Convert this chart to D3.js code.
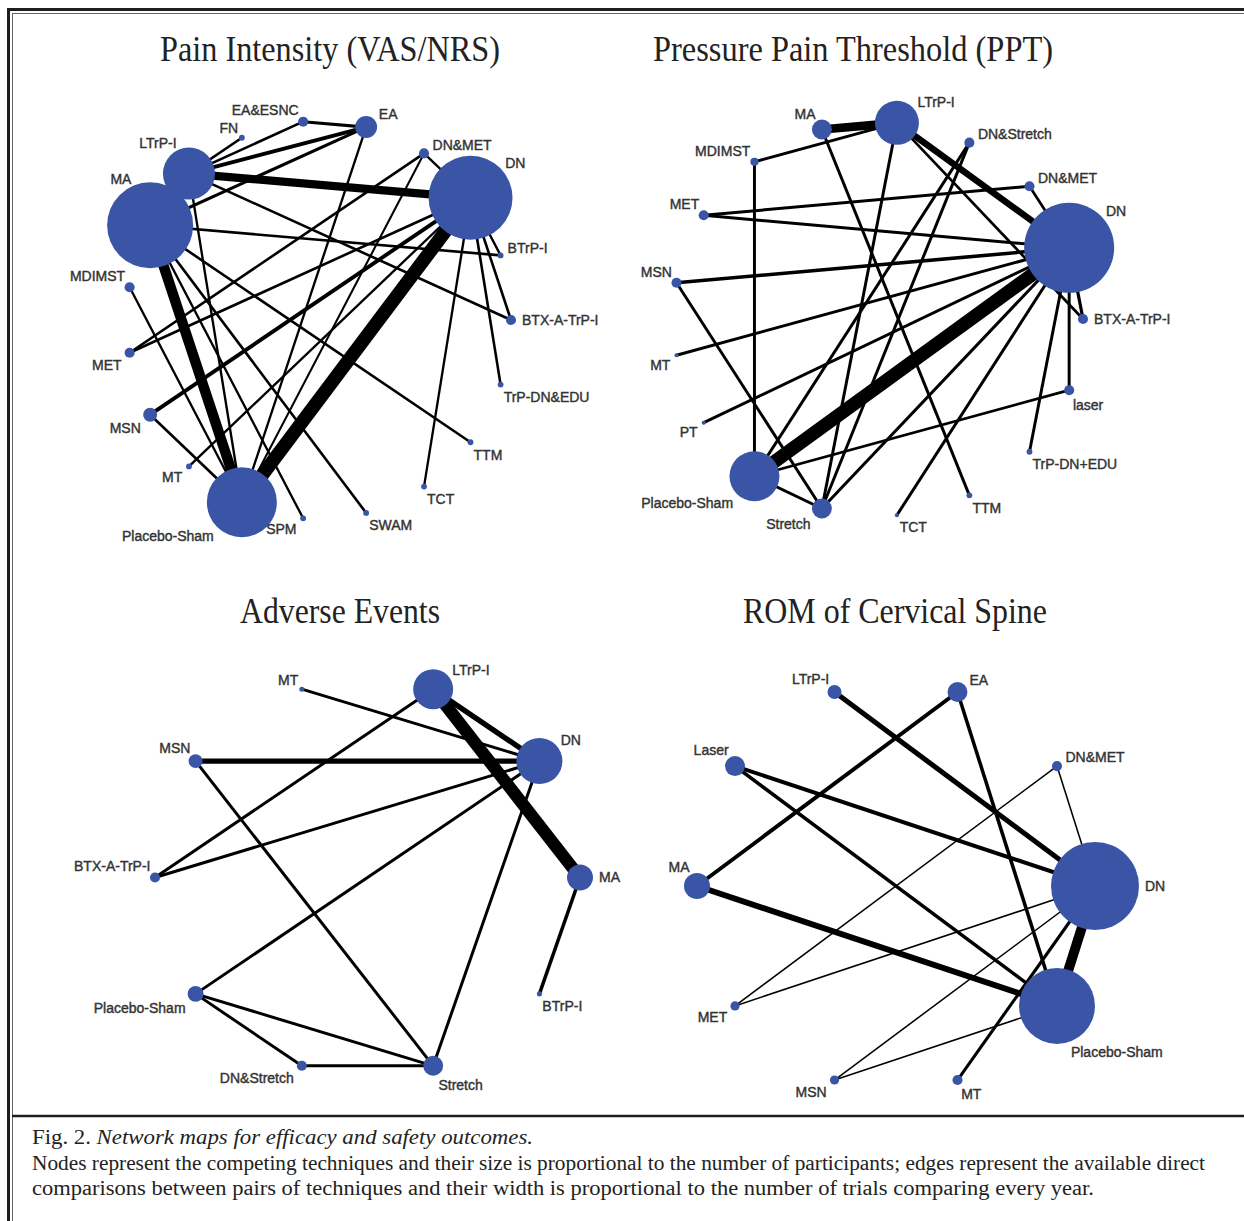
<!DOCTYPE html>
<html><head><meta charset="utf-8">
<script src="https://cdn.jsdelivr.net/npm/d3@7"></script>
<style>body{margin:0;background:#fff}svg{display:block}</style>
</head><body><svg id="c" width="1244" height="1221"></svg>
<script>
// ---------- DATA ----------
const panelTitles = ["Pain Intensity (VAS/NRS)", "Pressure Pain Threshold (PPT)", "Adverse Events", "ROM of Cervical Spine"];

// Panel 1: Pain intensity
const painNodes = ["BTX-A-TrP-I","BTrP-I","DN","DN&MET","EA","EA&ESNC","FN","LTrP-I","MA","MDIMST","MET","MSN","MT","Placebo-Sham","SPM","SWAM","TCT","TTM","TrP-DN&EDU"];
const painParticipants = [12, 4, 834, 12, 57, 12, 4, 320, 874, 12, 12, 23, 4, 579, 4, 4, 4, 4, 4];
const painEdges = [
  ["LTrP-I","DN",3.2],["MA","Placebo-Sham",4],["DN","Placebo-Sham",5.2],
  ["EA&ESNC","EA",1.2],["EA","LTrP-I",1.5],["EA","MA",1.2],["EA&ESNC","LTrP-I",1],
  ["FN","LTrP-I",1],["EA","Placebo-Sham",0.9],["DN&MET","DN",0.9],["DN&MET","MET",1],
  ["DN","MET",1],["DN&MET","Placebo-Sham",0.8],["DN","MSN",1.5],["DN","MT",0.9],
  ["DN","BTrP-I",0.9],["DN","BTX-A-TrP-I",1],["DN","TrP-DN&EDU",1],["DN","TCT",0.9],
  ["MA","BTrP-I",1],["LTrP-I","BTX-A-TrP-I",1],["MA","TTM",1],["MA","SWAM",1],
  ["MA","SPM",0.9],["MDIMST","Placebo-Sham",0.9],["MSN","Placebo-Sham",1],["LTrP-I","Placebo-Sham",0.9]
];

// Panel 2: Pressure pain threshold
const pptNodes = ["BTX-A-TrP-I","DN","DN&MET","DN&Stretch","LTrP-I","MA","MDIMST","MET","MSN","MT","PT","Placebo-Sham","Stretch","TCT","TTM","TrP-DN+EDU","laser"];
const pptParticipants = [12, 957, 12, 12, 229, 47, 8, 12, 12, 2, 2, 295, 47, 2, 4, 4, 12];
const pptEdges = [
  ["MA","LTrP-I",3.2],["LTrP-I","DN",2.4],["DN","Placebo-Sham",5],
  ["MDIMST","LTrP-I",1.1],["MDIMST","Placebo-Sham",1.1],["MET","DN&MET",1.1],["MET","DN",1.1],
  ["DN&MET","DN",1],["MSN","DN",1.3],["MSN","Stretch",1.1],["MT","DN",1.1],["PT","DN",1.1],
  ["laser","DN",1.1],["laser","Placebo-Sham",1],["TrP-DN+EDU","DN",1.1],["BTX-A-TrP-I","DN",1.2],
  ["LTrP-I","BTX-A-TrP-I",1],["TCT","DN",1.1],["MA","TTM",1.1],["LTrP-I","Stretch",1.1],
  ["DN&Stretch","Placebo-Sham",1.1],["DN&Stretch","Stretch",1.1],["Placebo-Sham","Stretch",1.1],["Stretch","DN",1.1]
];

// Panel 3: Adverse events
const aeNodes = ["MA","DN","LTrP-I","MT","MSN","BTX-A-TrP-I","Placebo-Sham","DN&Stretch","Stretch","BTrP-I"];
const aeParticipants = [80, 250, 189, 3, 23, 12, 30, 12, 47, 3];
const aeEdges = [
  ["LTrP-I","MA",4.6],["LTrP-I","DN",2],["MSN","DN",2],["MT","DN",1.1],
  ["LTrP-I","BTX-A-TrP-I",1.1],["DN","BTX-A-TrP-I",1.1],["DN","Placebo-Sham",1.1],["DN","Stretch",1.1],
  ["MSN","Stretch",1.1],["MA","BTrP-I",1.3],["Placebo-Sham","Stretch",1.1],
  ["Placebo-Sham","DN&Stretch",1.1],["DN&Stretch","Stretch",1.1]
];

// Panel 4: ROM of cervical spine
const romNodes = ["DN","DN&MET","EA","LTrP-I","Laser","MA","MET","MSN","MT","Placebo-Sham"];
const romParticipants = [915, 12, 47, 23, 47, 80, 10, 10, 12, 682];
const romEdges = [
  ["LTrP-I","DN",2.3],["EA","MA",1.8],["EA","Placebo-Sham",1.6],["Laser","DN",1.8],
  ["Laser","Placebo-Sham",1.6],["MA","Placebo-Sham",2.7],["DN&MET","DN",0.7],["DN&MET","MET",0.7],
  ["MET","DN",0.7],["MSN","DN",0.7],["MSN","Placebo-Sham",0.7],["MT","DN",1.4],["DN","Placebo-Sham",4.5]
];

const captionHead = "Fig. 2. ";
const captionTitle = "Network maps for efficacy and safety outcomes.";
const captionLines = [
  "Nodes represent the competing techniques and their size is proportional to the number of participants; edges represent the available direct",
  "comparisons between pairs of techniques and their width is proportional to the number of trials comparing every year."
];

// ---------- LAYOUT ----------
const panels = [
  {title: panelTitles[0], nodes: painNodes, sizes: painParticipants, edges: painEdges, cx: 319, cy: 320, rx: 192, ry: 199, unit: 2.6, tx: 330, ty: 61, tw: 340},
  {title: panelTitles[1], nodes: pptNodes, sizes: pptParticipants, edges: pptEdges, cx: 878, cy: 319, rx: 205, ry: 197, unit: 2.7, tx: 853, ty: 61, tw: 400},
  {title: panelTitles[2], nodes: aeNodes, sizes: aeParticipants, edges: aeEdges, cx: 367.5, cy: 877.5, rx: 212.5, ry: 198, unit: 2.7, tx: 340, ty: 623, tw: 200},
  {title: panelTitles[3], nodes: romNodes, sizes: romParticipants, edges: romEdges, cx: 896, cy: 886, rx: 199, ry: 204, unit: 2.2, tx: 895, ty: 623, tw: 304}
];

const NODE_COLOR = "#3a55a5";
const svg = d3.select("#c");
const rScale = d3.scaleSqrt().domain([0, 1000]).range([0, 46]);

// frame
const frame = svg.append("g");
frame.append("rect").attr("x", 0).attr("y", 0).attr("width", 1244).attr("height", 1221).attr("fill", "#fff");
frame.append("line").attr("x1", 7).attr("x2", 1244).attr("y1", 9.5).attr("y2", 9.5).attr("stroke", "#1e1e1e").attr("stroke-width", 3);
frame.append("line").attr("x1", 8.5).attr("x2", 8.5).attr("y1", 8).attr("y2", 1221).attr("stroke", "#1e1e1e").attr("stroke-width", 3);
frame.append("line").attr("x1", 12).attr("x2", 1244).attr("y1", 13.5).attr("y2", 13.5).attr("stroke", "#666").attr("stroke-width", 1);
frame.append("line").attr("x1", 12.5).attr("x2", 12.5).attr("y1", 13).attr("y2", 1221).attr("stroke", "#666").attr("stroke-width", 1);
frame.append("line").attr("x1", 12).attr("x2", 1244).attr("y1", 1116).attr("y2", 1116).attr("stroke", "#1e1e1e").attr("stroke-width", 2.5);

panels.forEach(p => {
  const g = svg.append("g");
  const N = p.nodes.length;
  const angle = d3.scaleLinear().domain([0, N]).range([0, 2 * Math.PI]);
  const wScale = d3.scaleLinear().domain([0, 1]).range([0, p.unit]);
  const nodes = p.nodes.map((name, i) => {
    const a = angle(i);
    return {name, a, deg: a * 180 / Math.PI,
      x: p.cx + p.rx * Math.cos(a), y: p.cy - p.ry * Math.sin(a), r: rScale(p.sizes[i])};
  });
  const byName = new Map(nodes.map(n => [n.name, n]));

  g.append("text").attr("x", p.tx).attr("y", p.ty).attr("text-anchor", "middle")
    .attr("font-family", "'Liberation Serif','Times New Roman',serif").attr("font-size", 35)
    .attr("textLength", p.tw).attr("lengthAdjust", "spacingAndGlyphs")
    .attr("fill", "#222").text(p.title);

  g.selectAll("line.edge").data(p.edges).join("line").attr("class", "edge")
    .attr("x1", d => byName.get(d[0]).x).attr("y1", d => byName.get(d[0]).y)
    .attr("x2", d => byName.get(d[1]).x).attr("y2", d => byName.get(d[1]).y)
    .attr("stroke", "#000").attr("stroke-width", d => wScale(d[2]));

  g.selectAll("circle.node").data(nodes).join("circle").attr("class", "node")
    .attr("cx", d => d.x).attr("cy", d => d.y).attr("r", d => d.r).attr("fill", NODE_COLOR);

  g.selectAll("text.lab").data(nodes).join("text").attr("class", "lab")
    .each(function(d) {
      let phi, anchor, extra = 0;
      const deg = d.deg;
      if (deg < 0.001) { phi = 0; anchor = "start"; }
      else if (deg < 90) { phi = 45; anchor = "start"; }
      else if (deg <= 180.001) { phi = 112; anchor = "end"; }
      else if (deg < 270) { phi = 228; anchor = "end"; extra = 3; }
      else { phi = -72; anchor = "start"; extra = 3; }
      const dist = d.r + (phi === 0 ? 6 : 7);
      const pr = phi * Math.PI / 180;
      d3.select(this).attr("x", d.x + dist * Math.cos(pr)).attr("y", d.y - dist * Math.sin(pr) + extra)
        .attr("text-anchor", anchor);
    })
    .attr("dy", "0.35em")
    .attr("font-family", "'Liberation Sans',Arial,sans-serif").attr("font-size", 14)
    .attr("fill", "#333").attr("stroke", "#333").attr("stroke-width", 0.4)
    .text(d => d.name);
});

// caption
const cap = svg.append("g").attr("font-family", "'Liberation Serif','Times New Roman',serif").attr("font-size", 20).attr("fill", "#222");
const t1 = cap.append("text").attr("x", 32).attr("y", 1144).attr("textLength", 501).attr("lengthAdjust", "spacingAndGlyphs");
t1.append("tspan").text(captionHead);
t1.append("tspan").attr("font-style", "italic").text(captionTitle);
const capWidths = [1173, 1062];
captionLines.forEach((line, i) => {
  cap.append("text").attr("x", 32).attr("y", 1170 + i * 25)
    .attr("textLength", capWidths[i]).attr("lengthAdjust", "spacingAndGlyphs").text(line);
});
</script>
</body></html>
